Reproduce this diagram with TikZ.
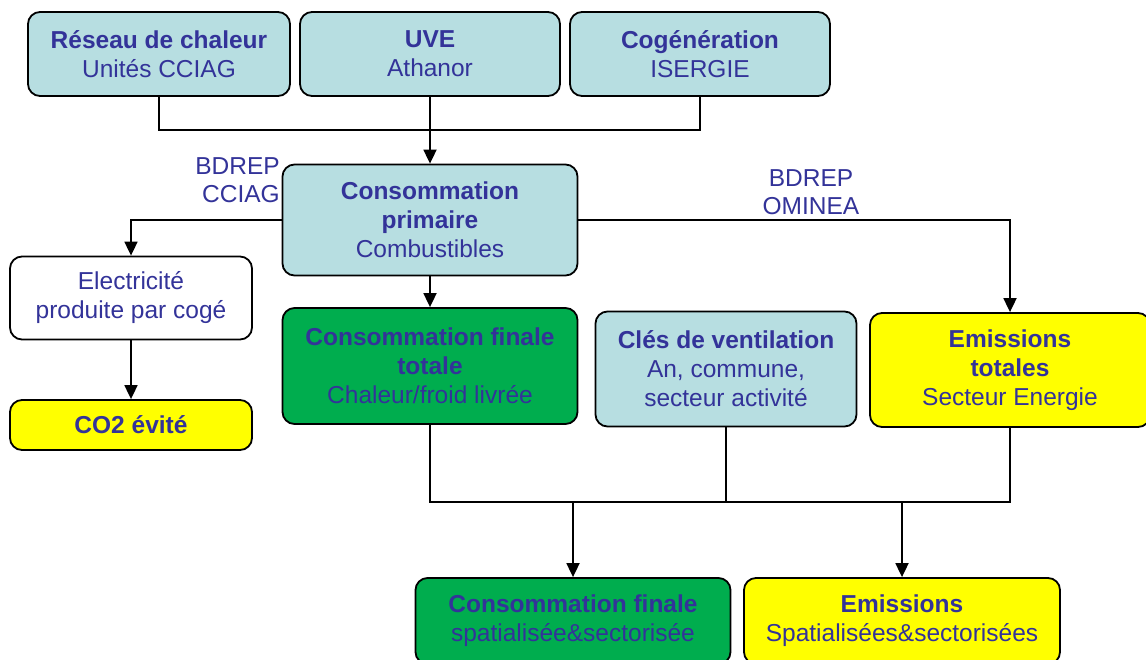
\documentclass[tikz,border=0pt]{standalone}
\usepackage{fontspec}
\setmainfont{Liberation Sans}
\usetikzlibrary{arrows.meta}
\definecolor{txt}{RGB}{51,51,153}
\definecolor{tealc}{RGB}{183,222,225}
\definecolor{greenc}{RGB}{0,173,78}
\definecolor{yellowc}{RGB}{255,255,0}
\tikzset{
  box/.style={draw=black, line width=1.8pt, rounded corners=12pt, align=center, text=txt, inner sep=0pt, font=\fontsize{24.5}{29}\selectfont},
  tealbox/.style={box, fill=tealc},
  greenbox/.style={box, fill=greenc},
  yellowbox/.style={box, fill=yellowc},
  whitebox/.style={box, fill=white},
  conn/.style={draw=black, line width=1.8pt},
  arr/.style={conn, -{Triangle[length=14pt,width=13pt]}},
  lbl/.style={text=txt, font=\fontsize{24.5}{28}\selectfont, inner sep=0pt}
}
\begin{document}
\begin{tikzpicture}[x=1pt,y=-1pt]
\clip (0,0) rectangle (1146,659);
\fill[white] (0,0) rectangle (1146,659);
% top row
\node[tealbox, minimum width=262pt, minimum height=84pt] (reseau) at (159,54) {\textbf{Réseau de chaleur}\\Unités CCIAG};
\node[tealbox, minimum width=260pt, minimum height=84pt] (uve) at (430,54) {\textbf{UVE}\\Athanor};
\node[tealbox, minimum width=260pt, minimum height=84pt] (cog) at (700,54) {\textbf{Cogénération}\\ISERGIE};
% primary
\node[tealbox, minimum width=295pt, minimum height=111pt] (prim) at (430,220) {\textbf{Consommation}\\\textbf{primaire}\\Combustibles};
\node[lbl, align=right, anchor=east] (lab1) at (280,180) {BDREP\\CCIAG};
\node[lbl, align=center] (lab2) at (811,192) {BDREP\\OMINEA};
% left column
\node[whitebox, minimum width=242pt, minimum height=83pt] (elec) at (131,298) {Electricité\\produite par cogé};
\node[yellowbox, minimum width=242pt, minimum height=50pt] (co2) at (131,425) {\textbf{CO2 évité}};
% middle row
\node[greenbox, minimum width=295pt, minimum height=116pt] (fin) at (430,366) {\textbf{Consommation finale}\\\textbf{totale}\\Chaleur/froid livrée};
\node[tealbox, minimum width=261pt, minimum height=115pt] (cles) at (726,369) {\textbf{Clés de ventilation}\\An, commune,\\secteur activité};
\node[yellowbox, minimum width=280pt, minimum height=114pt] (emt) at (1010,370) {\textbf{Emissions}\\\textbf{totales}\\Secteur Energie};
% bottom row
\node[greenbox, minimum width=315pt, minimum height=86pt] (cfs) at (573,621) {\textbf{Consommation finale}\\spatialisée\&sectorisée};
\node[yellowbox, minimum width=316pt, minimum height=86pt] (ems) at (902,621) {\textbf{Emissions}\\Spatialisées\&sectorisées};
% connectors top
\coordinate (j1) at (430,130);
\draw[conn] (reseau.south) |- (j1) -| (cog.south);
\draw[arr] (uve.south) -- (prim.north);
\draw[arr] (prim.west) -| (elec.north);
\draw[arr] (prim.east) -| (emt.north);
\draw[arr] (elec.south) -- (co2.north);
\draw[arr] (prim.south) -- (fin.north);
% bottom collector
\coordinate (j2) at (430,502);
\coordinate (j3) at (573,502);
\coordinate (j4) at (902,502);
\draw[conn] (fin.south) |- (j2) -| (emt.south);
\draw[conn] (cles.south) -- (cles.south |- j2);
\draw[arr] (j3) -- (cfs.north);
\draw[arr] (j4) -- (ems.north);
\end{tikzpicture}
\end{document}
